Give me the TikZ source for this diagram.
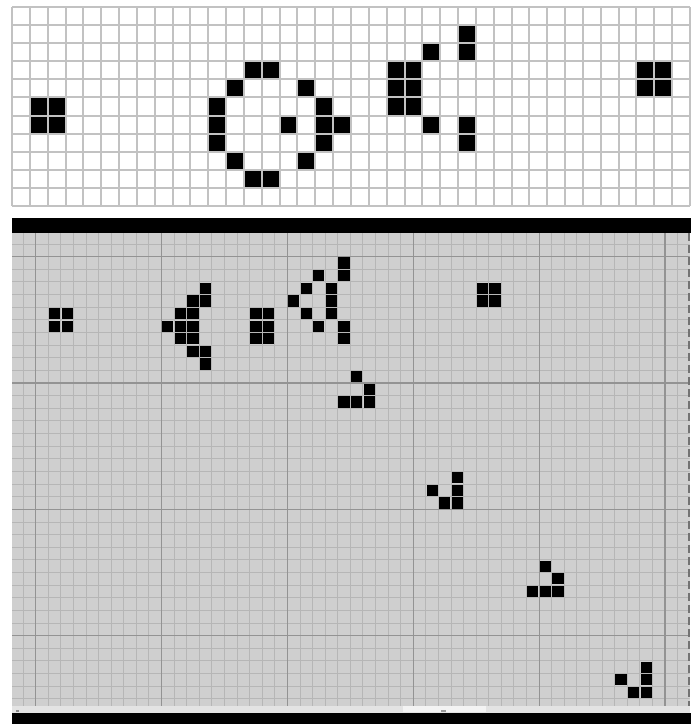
\documentclass[tikz,border=0pt]{standalone}
\definecolor{topline}{HTML}{C2C2C2}
\definecolor{panelbg}{HTML}{CFCFCF}
\definecolor{minorline}{HTML}{B6B6B6}
\definecolor{majorline}{HTML}{939393}
\definecolor{stripcol}{HTML}{E3E3E3}
\definecolor{thumbcol}{HTML}{F3F3F3}
\tikzset{
  topgrid/.style={draw=topline, line width=1pt},
  minorgrid/.style={draw=minorline, line width=0.5pt},
  majorgrid/.style={draw=majorline, line width=0.6pt},
  livecell/.style={fill=black},
  barfill/.style={fill=black},
  edgeline/.style={draw=black!55, line width=0.9pt, dash pattern=on 4pt off 2pt}
}
\begin{document}
\begin{tikzpicture}[x=0.5pt,y=-0.5pt]
\useasboundingbox[fill=white] (0,0) rectangle (698,724);
% ---------- top grid ----------
\def\tx{12}\def\ty{7}\def\tcw{17.842}\def\tch{18.09}
\foreach \c/\r in {25/1, 23/2,25/2,
  13/3,14/3,21/3,22/3,35/3,36/3,
  12/4,16/4,21/4,22/4,35/4,36/4,
  1/5,2/5,11/5,17/5,21/5,22/5,
  1/6,2/6,11/6,15/6,17/6,18/6,23/6,25/6,
  11/7,17/7,25/7,
  12/8,16/8,
  13/9,14/9}
  \fill[livecell] ({\tx+\c*\tcw},{\ty+\r*\tch}) rectangle ++(\tcw,\tch);
\foreach \i in {0,...,38}
  \draw[topgrid] ({\tx+\i*\tcw},\ty) -- ({\tx+\i*\tcw},{\ty+11*\tch});
\foreach \j in {0,...,11}
  \draw[topgrid] (\tx,{\ty+\j*\tch}) -- ({\tx+38*\tcw},{\ty+\j*\tch});
% ---------- bottom panel ----------
\fill[barfill] (12,217.7) rectangle (690.7,233.3);
\fill[panelbg] (12,233.3) rectangle (689.5,705.7);
\def\bx{35.7}\def\by{256.7}\def\bcw{12.586}\def\bch{12.633}
\begin{scope}
\clip (12,233.3) rectangle (689.5,705.7);
\foreach \i in {-1,...,51}
  \draw[minorgrid] ({\bx+\i*\bcw},233.3) -- ({\bx+\i*\bcw},705.7);
\foreach \j in {-1,...,35}
  \draw[minorgrid] (12,{\by+\j*\bch}) -- (689.5,{\by+\j*\bch});
\foreach \i in {0,10,20,30,40,50}
  \draw[majorgrid] ({\bx+\i*\bcw},233.3) -- ({\bx+\i*\bcw},705.7);
\foreach \j in {0,10,20,30}
  \draw[majorgrid] (12,{\by+\j*\bch}) -- (689.5,{\by+\j*\bch});
\end{scope}
\foreach \c/\r in {1/4,2/4,1/5,2/5,
  13/2,12/3,13/3,11/4,12/4,10/5,11/5,12/5,11/6,12/6,12/7,13/7,13/8,
  17/4,18/4,17/5,18/5,17/6,18/6,
  24/0,22/1,24/1,21/2,23/2,20/3,23/3,21/4,23/4,22/5,24/5,24/6,
  35/2,36/2,35/3,36/3,
  25/9,26/10,24/11,25/11,26/11,
  33/17,33/18,31/18,32/19,33/19,
  40/24,41/25,39/26,40/26,41/26,
  48/32,48/33,46/33,47/34,48/34}
  \fill[livecell] ({\bx+\c*\bcw+0.7},{\by+\r*\bch+0.7}) rectangle ++(11.2,11.2);
\draw[edgeline] (689.3,233.3) -- (689.3,705.7);
% scroll strip and bottom bar
\fill[stripcol] (12,705.7) rectangle (690,712.7);
\fill[thumbcol] (403,706.3) rectangle (486,712.2);
\fill[black!45] (15.5,709.5) rectangle (18.5,712);
\fill[black!40] (441,710) rectangle (446,712.4);
\fill[barfill] (12,712.7) rectangle (690.7,724);
\end{tikzpicture}
\end{document}
